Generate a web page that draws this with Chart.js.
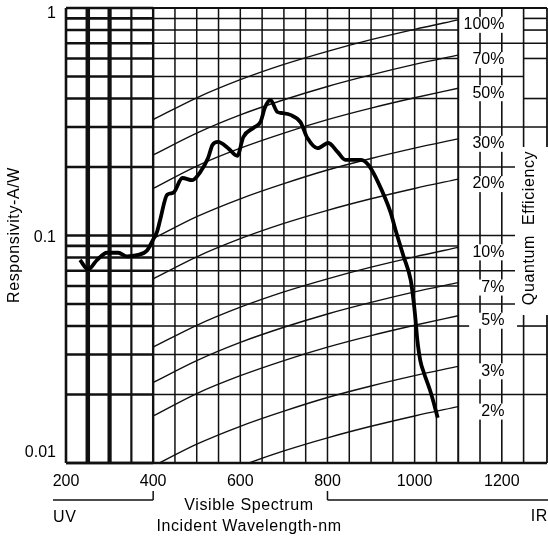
<!DOCTYPE html>
<html>
<head>
<meta charset="utf-8">
<script src="https://cdn.jsdelivr.net/npm/chart.js@4.4.1/dist/chart.umd.min.js"></script>
<style>
  html, body { margin: 0; padding: 0; background: #fff; }
  #caixa { position: relative; width: 548px; height: 536px; }
</style>
</head>
<body>
<div id="caixa"><canvas id="grafico"></canvas></div>
<script>
// curva de responsividade
const respWavelengths = [232, 251, 271, 294, 320, 340, 363, 386, 400, 409, 416, 432, 446, 467, 490, 508, 526, 536, 549, 572, 593, 607, 630, 646, 657, 669, 685, 697, 715, 738, 754, 777, 802, 823, 841, 876, 894, 917, 945, 956, 975, 991, 998, 1002, 1006, 1013, 1021, 1037, 1053];
const respValues = [0.078, 0.071, 0.078, 0.084, 0.084, 0.081, 0.082, 0.086, 0.096, 0.104, 0.117, 0.151, 0.154, 0.179, 0.175, 0.190, 0.219, 0.250, 0.258, 0.242, 0.224, 0.271, 0.297, 0.315, 0.367, 0.394, 0.349, 0.345, 0.339, 0.315, 0.268, 0.242, 0.255, 0.233, 0.215, 0.215, 0.204, 0.170, 0.126, 0.106, 0.0805, 0.0636, 0.0506, 0.0427, 0.0350, 0.0282, 0.0250, 0.0204, 0.0158];

// linhas de eficiência quântica
const qeWavelengths = [400, 500, 600, 700, 800, 900, 1000, 1100];
const qeLabels = ["100%", "70%", "50%", "30%", "20%", "10%", "7%", "5%", "3%", "2%"];
const qe100 = [0.323, 0.403, 0.484, 0.565, 0.645, 0.726, 0.806, 0.887];
const qe70 = [0.226, 0.282, 0.339, 0.395, 0.452, 0.508, 0.565, 0.621];
const qe50 = [0.161, 0.202, 0.242, 0.282, 0.323, 0.363, 0.403, 0.444];
const qe30 = [0.0968, 0.121, 0.145, 0.169, 0.194, 0.218, 0.242, 0.266];
const qe20 = [0.0645, 0.0806, 0.0968, 0.113, 0.129, 0.145, 0.161, 0.177];
const qe10 = [0.0323, 0.0403, 0.0484, 0.0565, 0.0645, 0.0726, 0.0806, 0.0887];
const qe7 = [0.0226, 0.0282, 0.0339, 0.0395, 0.0452, 0.0508, 0.0565, 0.0621];
const qe5 = [0.0161, 0.0202, 0.0242, 0.0282, 0.0323, 0.0363, 0.0403, 0.0444];
const qe3 = [0.00968, 0.0121, 0.0145, 0.0169, 0.0194, 0.0218, 0.0242, 0.0266];
const qe2 = [0.00645, 0.00806, 0.00968, 0.0113, 0.0129, 0.0145, 0.0161, 0.0177];
const qeSeries = [qe100, qe70, qe50, qe30, qe20, qe10, qe7, qe5, qe3, qe2];

// rótulos dos eixos
const xTickLabels = ["200", "400", "600", "800", "1000", "1200"];
const yTickValues = [1, 0.1, 0.01];
const yTickLabels = ["1", "0.1", "0.01"];

const familia = '"Liberation Sans", Arial, sans-serif';
const fonte = "16px " + familia;
const tinta = "#111";

// valores da grade logarítmica 0.01 .. 1
const gradeY = [];
for (let e = -2; e <= -1; e++) {
    for (let k = 1; k <= 9; k++) gradeY.push(k * Math.pow(10, e));
}
gradeY.push(1);

function traco(ctx, x1, y1, x2, y2, w) {
    ctx.lineWidth = w;
    ctx.beginPath();
    ctx.moveTo(x1, y1);
    ctx.lineTo(x2, y2);
    ctx.stroke();
}

const desenhoGrade = {
    id: "desenhoGrade",
    beforeDatasetsDraw(chart) {
        const { ctx, chartArea: a, scales: { x, y } } = chart;
        const px = v => x.getPixelForValue(v);
        const py = v => y.getPixelForValue(v);
        const dir = a.right - 1;
        ctx.save();
        ctx.strokeStyle = tinta;

        // horizontais
        for (const v of gradeY) {
            const yy = py(v);
            traco(ctx, px(200), yy, px(400), yy, 2.6);
            traco(ctx, px(400), yy, px(1100), yy, 1.5);
        }
        // verticais na região UV
        [[200, 2.6], [250, 4.5], [300, 4.2], [350, 2.2]].forEach(([w, lw]) => {
            traco(ctx, px(w), a.top, px(w), a.bottom, lw);
        });
        for (let w = 400; w <= 1100; w += 50) {
            const lw = (w === 400) ? 2.4 : (w === 1100 ? 2 : 1.5);
            traco(ctx, px(w), a.top, px(w), a.bottom, lw);
        }
        // coluna dos rótulos de eficiência
        [1150, 1200, 1250].forEach(w => traco(ctx, px(w), a.top, px(w), a.bottom, 1.6));
        traco(ctx, dir, a.top, dir, a.bottom, 1.8);
        [1, 0.7, 0.3, 0.03, 0.02].forEach(v => traco(ctx, px(1100), py(v), dir, py(v), 1.6));
        [0.5, 0.2, 0.1, 0.07, 0.05].forEach(v => traco(ctx, px(1100), py(v), px(1250), py(v), 1.6));
        [0.9, 0.8, 0.6, 0.4].forEach(v => traco(ctx, px(1250), py(v), dir, py(v), 1.6));
        traco(ctx, px(1100), py(0.04), px(1125), py(0.04), 1.6);
        traco(ctx, px(1235), py(0.04), dir, py(0.04), 1.6);
        traco(ctx, px(200), a.top, dir, a.top, 2.2);
        traco(ctx, px(200), a.bottom, dir, a.bottom, 2.4);
        ctx.restore();
    },
    afterDatasetsDraw(chart) {
        const { ctx, chartArea: a, scales: { x, y } } = chart;
        ctx.save();
        ctx.font = fonte;
        ctx.fillStyle = "#000";
        ctx.textAlign = "right";
        ctx.textBaseline = "middle";
        const xr = x.getPixelForValue(1206);
        qeLabels.forEach((t, i) => {
            const serie = qeSeries[i];
            const yy = y.getPixelForValue(serie[serie.length - 1]) + 5;
            const w = ctx.measureText(t).width;
            ctx.fillStyle = "#fff";
            ctx.fillRect(xr - w - 3, yy - 8, w + 6, 16);
            ctx.fillStyle = "#000";
            ctx.fillText(t, xr, yy);
        });
        // título da direita
        ctx.fillStyle = "#fff";
        ctx.fillRect(515, 147, a.right - 515, 168);
        ctx.fillStyle = "#000";
        ctx.translate(530, 228);
        ctx.rotate(-Math.PI / 2);
        ctx.textAlign = "center";
        ctx.letterSpacing = "0.6px";
        ctx.fillText("Quantum  Efficiency", 0, 0);
        ctx.restore();
    },
    afterDraw(chart) {
        const { ctx, chartArea: a, scales: { x, y } } = chart;
        ctx.save();
        ctx.font = fonte;
        ctx.fillStyle = "#000";
        ctx.strokeStyle = tinta;
        ctx.textBaseline = "middle";

        // rótulos do eixo y
        ctx.textAlign = "right";
        yTickValues.forEach((v, i) => {
            let yy = y.getPixelForValue(v) + 2;
            yy = Math.min(Math.max(yy, a.top + 6), a.bottom - 10);
            ctx.fillText(yTickLabels[i], 56, yy);
        });

        // faixas do espectro
        const x400 = x.getPixelForValue(400);
        const x800 = x.getPixelForValue(800);
        traco(ctx, 53, 500, x400, 500, 1.5);
        traco(ctx, x400, 491, x400, 500, 1.5);
        traco(ctx, x800, 491, x800, 500, 1.5);
        traco(ctx, x800, 500, 548, 500, 1.5);

        ctx.letterSpacing = "0.6px";
        ctx.textAlign = "left";
        ctx.fillText("UV", 53, 518);
        ctx.textAlign = "right";
        ctx.fillText("IR", 548, 517);
        ctx.textAlign = "center";
        ctx.fillText("Visible Spectrum", 249, 506);
        ctx.fillText("Incident Wavelength-nm", 249, 527);

        ctx.translate(15, 235);
        ctx.rotate(-Math.PI / 2);
        ctx.fillText("Responsivity-A/W", 0, 0);
        ctx.restore();
    }
};

const datasets = [{
    data: respWavelengths.map((w, i) => ({ x: w, y: respValues[i] })),
    borderColor: "#000",
    borderWidth: 3.8,
    pointRadius: 0,
    cubicInterpolationMode: "monotone",
    fill: false
}];
qeSeries.forEach((serie, i) => {
    datasets.push({
        label: qeLabels[i],
        data: qeWavelengths.map((w, j) => ({ x: w, y: serie[j] })),
        borderColor: tinta,
        borderWidth: 1.4,
        pointRadius: 0,
        cubicInterpolationMode: "monotone",
        fill: false
    });
});

new Chart(document.getElementById("grafico"), {
    type: "line",
    data: { datasets: datasets },
    options: {
        responsive: true,
        maintainAspectRatio: false,
        animation: false,
        layout: { padding: { top: 8, right: 0, left: 0, bottom: 0 } },
        plugins: { legend: { display: false }, tooltip: { enabled: false } },
        scales: {
            x: {
                type: "linear",
                min: 200,
                max: 1306,
                grid: { display: false, drawTicks: false },
                border: { display: false },
                ticks: {
                    stepSize: 200,
                    includeBounds: false,
                    autoSkip: false,
                    maxRotation: 0,
                    padding: 9,
                    color: "#000",
                    font: { family: familia, size: 16 },
                    callback: v => xTickLabels.includes(String(v)) ? String(v) : ""
                },
                afterFit: s => { s.height = 73; }
            },
            y: {
                type: "logarithmic",
                min: 0.01,
                max: 1,
                grid: { display: false, drawTicks: false },
                border: { display: false },
                ticks: { display: false },
                afterFit: s => { s.width = 66; }
            }
        }
    },
    plugins: [desenhoGrade]
});
</script>
</body>
</html>
